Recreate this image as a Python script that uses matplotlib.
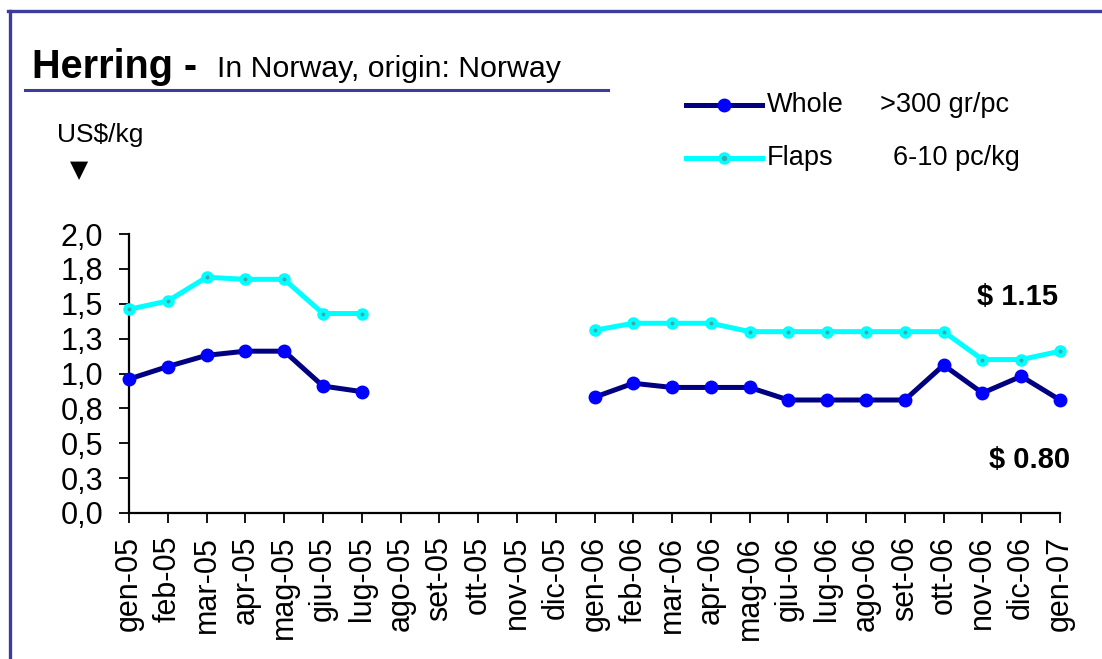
import numpy as np
import matplotlib
matplotlib.use("Agg")
import matplotlib.pyplot as plt
from matplotlib.lines import Line2D

plt.rcParams['font.family'] = ['Liberation Sans', 'DejaVu Sans']

months = ["gen-05", "feb-05", "mar-05", "apr-05", "mag-05", "giu-05", "lug-05",
          "ago-05", "set-05", "ott-05", "nov-05", "dic-05",
          "gen-06", "feb-06", "mar-06", "apr-06", "mag-06", "giu-06", "lug-06",
          "ago-06", "set-06", "ott-06", "nov-06", "dic-06", "gen-07"]
nan = np.nan
whole = [0.96, 1.05, 1.13, 1.16, 1.16, 0.91, 0.87,
         nan, nan, nan, nan, nan,
         0.83, 0.93, 0.90, 0.90, 0.90, 0.81, 0.81, 0.81, 0.81, 1.06, 0.86, 0.98, 0.81]
flaps = [1.46, 1.52, 1.69, 1.675, 1.675, 1.43, 1.43,
         nan, nan, nan, nan, nan,
         1.31, 1.36, 1.36, 1.36, 1.30, 1.30, 1.30, 1.30, 1.30, 1.30, 1.10, 1.10, 1.16]
ytick_vals = [0.0, 0.25, 0.5, 0.75, 1.0, 1.25, 1.5, 1.75, 2.0]
ytick_labels = ["0,0", "0,3", "0,5", "0,8", "1,0", "1,3", "1,5", "1,8", "2,0"]

W, H = 1102, 659
fig = plt.figure(figsize=(W / 100, H / 100), dpi=100)
fig.patch.set_facecolor('white')

# axes in pixel coordinates
left, right, top, bottom = 129, 1060, 234, 513
ax = fig.add_axes([left / W, 1 - bottom / H, (right - left) / W, (bottom - top) / H])
x = np.arange(len(months))

ax.plot(x, whole, color='#000080', lw=3.6, marker='o', ms=9,
        mfc='#0000ff', mec='#0000ff', zorder=3, clip_on=False)
ax.plot(x, flaps, color='#00ffff', lw=3.6, marker='o', ms=8,
        mfc='#00ffff', mec='#00ffff', zorder=3, clip_on=False)
ax.plot(x, flaps, ls='none', marker='o', ms=2.8, mfc='#40a8a8', mec='none', zorder=4,
        clip_on=False)

ax.set_xlim(0, len(months) - 1)
ax.set_ylim(0, 2.0)
ax.set_xticks(x)
ax.set_xticklabels(months, rotation=90, fontsize=22)
ax.set_yticks(ytick_vals)
ax.set_yticklabels(ytick_labels, fontsize=22)
for s in ['top', 'right']:
    ax.spines[s].set_visible(False)
for s in ['left', 'bottom']:
    ax.spines[s].set_linewidth(1.6)
    ax.spines[s].set_color('black')
ax.tick_params(axis='both', direction='out', length=7.5, width=1.3, colors='black')
ax.tick_params(axis='x', pad=9)
ax.tick_params(axis='y', pad=11)

# frame lines
fig.add_artist(Line2D([8 / W, 1.0], [1 - 11 / H, 1 - 11 / H], color='#3c3c9c', lw=2.4))
fig.add_artist(Line2D([9.5 / W, 9.5 / W], [0, 1 - 11 / H], color='#3c3c9c', lw=2.4))
# title underline
fig.add_artist(Line2D([25 / W, 608 / W], [1 - 90 / H, 1 - 90 / H], color='#3c3c9c', lw=2.2))

fig.text(32 / W, 1 - 78 / H, "Herring -", fontsize=28.5, fontweight='bold', ha='left', va='baseline')
fig.text(217 / W, 1 - 77 / H, "In Norway, origin: Norway", fontsize=21.8, ha='left', va='baseline')
fig.text(57 / W, 1 - 142 / H, "US$/kg", fontsize=19, ha='left', va='baseline')
fig.text(79 / W, 1 - 170 / H, "▼", fontsize=17, ha='center', va='center', family='DejaVu Sans')

# legend (manual)
ly1, ly2 = 1 - 105 / H, 1 - 158 / H
fig.add_artist(Line2D([686 / W, 762 / W], [ly1, ly1], color='#000080', lw=3.6))
fig.add_artist(Line2D([724 / W], [ly1], color='#0000ff', marker='o', ms=9, ls='none'))
fig.add_artist(Line2D([686 / W, 762 / W], [ly2, ly2], color='#00ffff', lw=3.6))
fig.add_artist(Line2D([724 / W], [ly2], color='#00ffff', marker='o', ms=8, ls='none'))
fig.add_artist(Line2D([724 / W], [ly2], color='#40a8a8', marker='o', ms=2.8, ls='none'))
fig.text(767 / W, ly1, "Whole", fontsize=19.5, ha='left', va='center')
fig.text(880 / W, ly1, ">300 gr/pc", fontsize=19.5, ha='left', va='center')
fig.text(767 / W, ly2, "Flaps", fontsize=19.5, ha='left', va='center')
fig.text(893 / W, ly2, "6-10 pc/kg", fontsize=19.5, ha='left', va='center')

# price annotations
fig.text(1058 / W, 1 - 297 / H, "$ 1.15", fontsize=21, fontweight='bold', ha='right', va='center')
fig.text(1070 / W, 1 - 460 / H, "$ 0.80", fontsize=21, fontweight='bold', ha='right', va='center')

fig.savefig("out.png", dpi=100)
